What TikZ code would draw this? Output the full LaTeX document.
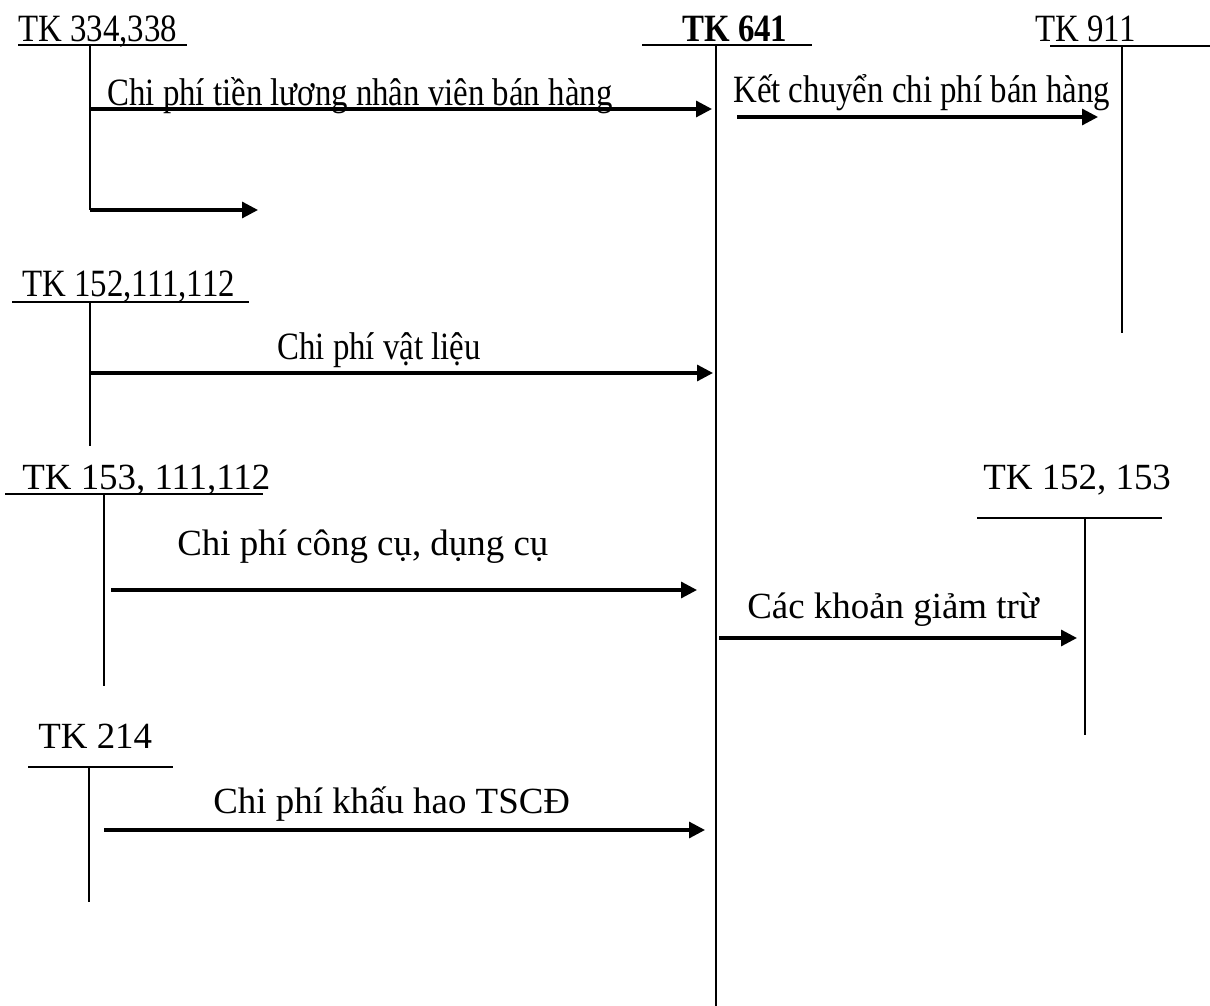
\documentclass[tikz,border=0pt]{standalone}
\usepackage{fontspec}
\setmainfont{Liberation Serif}
\newfontfamily\narrowfont{Liberation Serif}[FakeStretch=0.85]
\usetikzlibrary{arrows.meta}

\tikzset{
  lbl/.style={anchor=base west, inner sep=0pt, font=\fontsize{21}{25}\selectfont},
  nlbl/.style={anchor=base west, inner sep=0pt, font=\fontsize{22}{26}\selectfont\narrowfont},
  tline/.style={line width=1.1pt},
  flow/.style={line width=1.8pt, -{Triangle[length=9pt,width=9pt]}},
}

\begin{document}
\begin{tikzpicture}[x=0.02cm,y=-0.02cm]
  \useasboundingbox (0,0) rectangle (1210,1006);
  % T accounts: rule from \xa to \xb at \yu, stem at \xs down to \ye
  \foreach \xa/\xb/\yu/\xs/\ye in {18/187/45/90/210, 642/812/45/716/1006,
      1050/1210/46/1122/333, 12/249/302/90/446, 5/263/494/104/686,
      977/1162/518/1085/735, 28/173/767/89/902}{
    \draw[tline] (\xa,\yu) -- (\xb,\yu);
    \draw[tline] (\xs,\yu) -- (\xs,\ye);
  }
  % account names
  \node[nlbl] (tk334) at (18,42) {TK 334,338};
  \node[nlbl, font=\fontsize{22}{26}\selectfont\narrowfont\bfseries] (tk641) at (682,42) {TK 641};
  \node[nlbl] (tk911) at (1035,42) {TK 911};
  \node[nlbl] (tk152) at (22,297) {TK 152,111,112};
  \node[lbl] (tk153) at (22,490) {TK 153, 111,112};
  \node[lbl] (tkgiam) at (983,490) {TK 152, 153};
  \node[lbl] (tk214) at (38,748) {TK 214};
  % flows
  \foreach \i/\xs/\xe/\y in {1/90/712/109, 2/90/258/210, 3/737/1098/117,
      4/90/713/373, 5/111/697/590, 6/719/1077/638, 7/104/705/830}{
    \coordinate (s\i) at (\xs,\y);
    \coordinate (e\i) at (\xe,\y);
    \draw[flow] (s\i) -- (e\i);
  }
  % flow labels
  \node[nlbl] (luong) at (107,106) {Chi phí tiền lương nhân viên bán hàng};
  \node[nlbl] (ketchuyen) at (733,103) {Kết chuyển chi phí bán hàng};
  \node[nlbl] (vatlieu) at (277,360) {Chi phí vật liệu};
  \node[lbl] (congcu) at (177,555) {Chi phí công cụ, dụng cụ};
  \node[lbl] (giamtru) at (747,618) {Các khoản giảm trừ};
  \node[lbl] (khauhao) at (213,813) {Chi phí khấu hao TSCĐ};
\end{tikzpicture}
\end{document}
